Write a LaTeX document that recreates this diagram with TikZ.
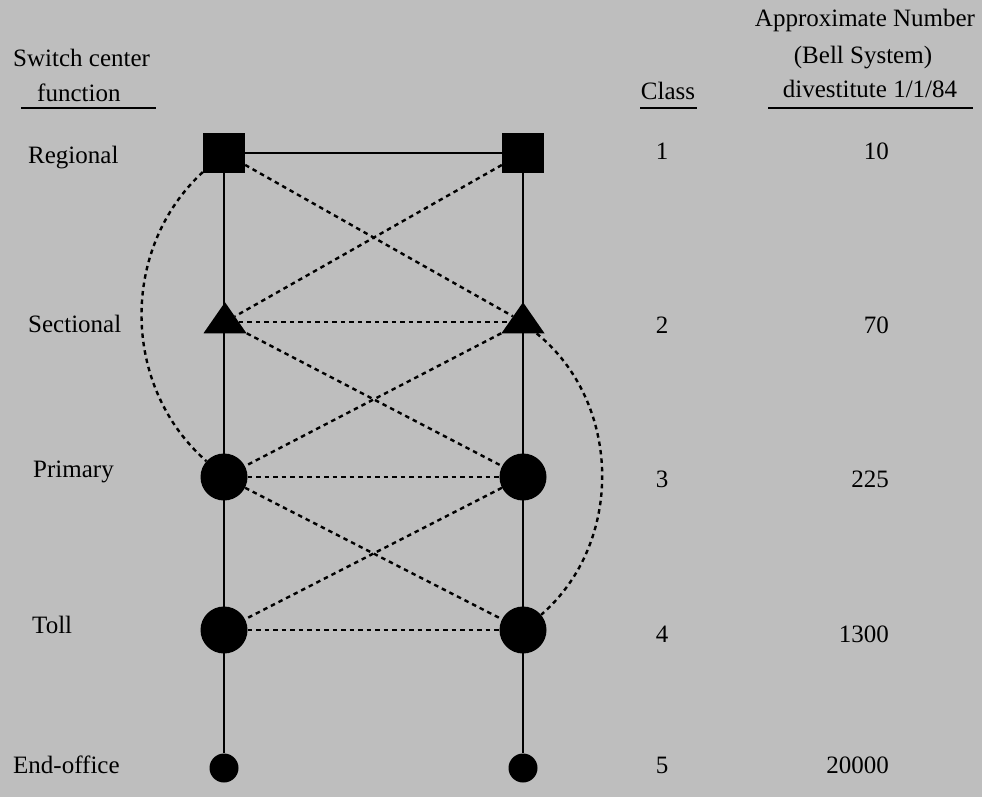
\documentclass[tikz,border=0pt]{standalone}
\usepackage{fontspec}
\setmainfont{Liberation Serif}
\usepackage{tikz}
\usetikzlibrary{shapes.geometric}
\definecolor{paper}{HTML}{BEBEBE}
\definecolor{ink}{HTML}{000000}

\begin{document}
\begin{tikzpicture}[
  x=1pt,y=-1pt,
  lab/.style={inner sep=0,font=\fontsize{25}{29}\selectfont},
  regsq/.style={fill=ink,draw=none,minimum width=42pt,minimum height=40pt,inner sep=0},
  sectri/.style={isosceles triangle,isosceles triangle stretches,shape border rotate=90,fill=ink,draw=none,minimum width=43pt,minimum height=31pt,inner sep=0},
  bigdot/.style={circle,fill=ink,draw=none,minimum size=47pt,inner sep=0},
  smalldot/.style={circle,fill=ink,draw=none,minimum size=29pt,inner sep=0},
  trunk/.style={line width=2.4pt,ink},
  alt/.style={line width=2.4pt,ink,dash pattern=on 4.5pt off 4pt}
]
\useasboundingbox[fill=paper] (0,0) rectangle (982,797);

% headings
\node[lab,anchor=base west] (hsw) at (13,67) {Switch center};
\node[lab,anchor=base west] (hfn) at (37,102) {function};
\node[lab,anchor=base] (hcl) at (668,100) {Class};
\node[lab,anchor=base] (hap) at (865,27) {Approximate Number};
\node[lab,anchor=base] (hbs) at (863,64) {(Bell System)};
\node[lab,anchor=base] (hdv) at (870,98) {divestitute 1/1/84};
\draw[line width=1.8pt] (21,108) -- (156,108);
\draw[line width=1.8pt] (640,108) -- (697,108);
\draw[line width=1.8pt] (768,108) -- (973,108);

% switch center functions
\node[lab,anchor=base west] (freg) at (28,163) {Regional};
\node[lab,anchor=base west] (fsec) at (28,332) {Sectional};
\node[lab,anchor=base west] (fpri) at (33,477) {Primary};
\node[lab,anchor=base west] (ftol) at (32,633) {Toll};
\node[lab,anchor=base west] (fend) at (13,773) {End-office};

% class and numbers
\node[lab,anchor=base] (c1) at (662,160) {1};
\node[lab,anchor=base] (c2) at (662,333) {2};
\node[lab,anchor=base] (c3) at (662,487) {3};
\node[lab,anchor=base] (c4) at (662,642) {4};
\node[lab,anchor=base] (c5) at (662,773) {5};
\node[lab,anchor=base east] (n1) at (889,160) {10};
\node[lab,anchor=base east] (n2) at (889,333) {70};
\node[lab,anchor=base east] (n3) at (889,487) {225};
\node[lab,anchor=base east] (n4) at (889,642) {1300};
\node[lab,anchor=base east] (n5) at (889,773) {20000};

% offices
\node[regsq] (reg1) at (224,153) {};
\node[regsq] (reg2) at (523,153) {};
\node[sectri] (sec1) at (225,322) {};
\node[sectri] (sec2) at (523,322) {};
\node[bigdot] (pri1) at (224,477) {};
\node[bigdot] (pri2) at (523,477) {};
\node[bigdot] (tol1) at (224,630) {};
\node[bigdot] (tol2) at (523,630) {};
\node[smalldot] (end1) at (224,768) {};
\node[smalldot] (end2) at (523,768) {};

% final route
\draw[trunk] (reg1) -- (end1);
\draw[trunk] (reg2) -- (end2);
\draw[trunk] (reg1) -- (reg2);

% alternate routes
\draw[alt] (reg1) -- (sec2);
\draw[alt] (reg2) -- (sec1);
\draw[alt] (sec1) -- (sec2);
\draw[alt] (sec1) -- (pri2);
\draw[alt] (sec2) -- (pri1);
\draw[alt] (pri1) -- (pri2);
\draw[alt] (pri1) -- (tol2);
\draw[alt] (pri2) -- (tol1);
\draw[alt] (tol1) -- (tol2);
\draw[alt] (reg1) to[bend right=48] (pri1);
\draw[alt] (sec2) to[bend left=50] (tol2);
\end{tikzpicture}
\end{document}
